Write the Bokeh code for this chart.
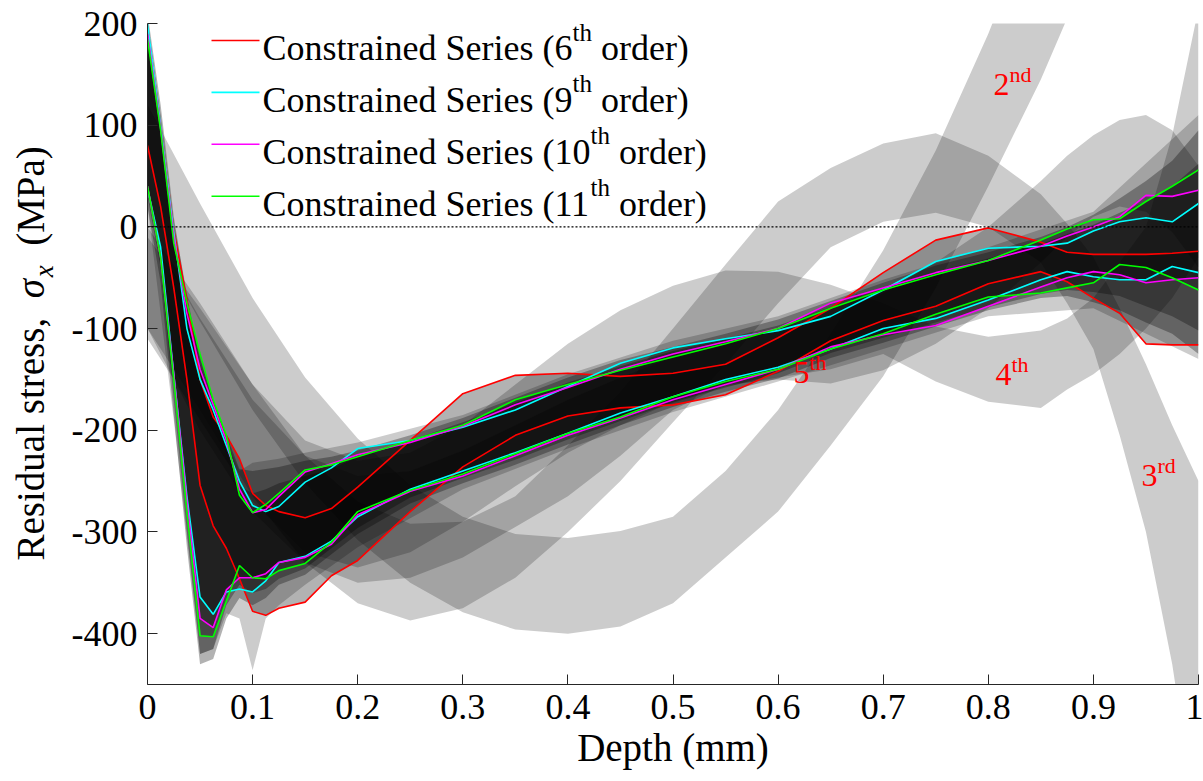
from bokeh.plotting import figure
from bokeh.models import Range1d, FixedTicker, Label, Span
from bokeh.layouts import row
from bokeh.embed import file_html
from bokeh.resources import INLINE
import math

# ---------------- data ----------------
depth = [0, 0.0125, 0.025, 0.0375, 0.05, 0.0625, 0.075, 0.0875, 0.1, 0.1125, 0.125, 0.15,
         0.175, 0.2, 0.25, 0.3, 0.35, 0.4, 0.45, 0.5, 0.55, 0.6, 0.65, 0.7, 0.75, 0.8,
         0.85, 0.875, 0.9, 0.925, 0.95, 0.975, 1.0]

# constrained series bounds (upper / lower), MPa
s6_upper = [198, 100, -3, -72, -150, -187, -205, -228, -262, -274, -280, -286, -277, -256, -210, -164, -146,
            -144, -147, -144, -135, -109, -80, -45, -13, -1, -15, -25, -27, -27, -27, -26, -24]
s6_lower = [80, 20, -60, -150, -254, -294, -316, -346, -378, -382, -375, -369, -343, -328, -280, -236, -205,
            -186, -178, -175, -165, -142, -112, -92, -78, -56, -44, -54, -70, -85, -115, -116, -116]
s9_upper = [200, 100, -5, -100, -150, -180, -215, -250, -274, -280, -275, -251, -237, -218, -210, -197, -180,
            -157, -134, -119, -110, -102, -88, -62, -34, -21, -19, -16, -4, 5, 9, 5, 23]
s9_lower = [38, -20, -145, -265, -364, -381, -359, -356, -359, -348, -330, -324, -309, -285, -258, -240, -222,
            -203, -183, -167, -150, -138, -120, -100, -90, -72, -52, -44, -49, -52, -52, -39, -45]
s10_upper = [190, 97, -10, -85, -140, -175, -210, -258, -281, -278, -265, -241, -233, -224, -212, -196, -175,
             -158, -140, -125, -113, -100, -75, -60, -45, -33, -19, -9, 0, 10, 31, 30, 36]
s10_lower = [40, -30, -145, -270, -385, -394, -357, -345, -345, -341, -330, -325, -312, -283, -260, -245, -225,
             -205, -188, -170, -155, -140, -118, -106, -97, -78, -59, -50, -44, -47, -55, -52, -50]
s11_upper = [185, 95, -16, -75, -125, -170, -205, -264, -281, -273, -262, -239, -234, -226, -210, -195, -170,
             -155, -141, -128, -115, -100, -80, -62, -47, -33, -13, -2, 7, 8, 25, 40, 56]
s11_lower = [40, -30, -150, -280, -402, -403, -368, -333, -345, -346, -338, -331, -310, -280, -259, -243, -223,
             -203, -187, -167, -152, -140, -120, -105, -86, -69, -65, -60, -55, -37, -40, -50, -62]

# other higher-order bands (no lines)
s7_upper = [200, 110, 0, -80, -140, -180, -220, -255, -262, -258, -252, -245, -238, -226, -210, -192, -173,
            -153, -137, -122, -110, -97, -79, -61, -44, -31, -17, -7, 2, 14, 25, 40, 62]
s7_lower = [30, -40, -170, -300, -420, -415, -372, -352, -360, -356, -346, -336, -316, -296, -266, -247, -229,
            -209, -191, -173, -158, -144, -124, -109, -94, -79, -66, -62, -64, -68, -78, -88, -102]
s8_upper = [210, 120, 10, -70, -130, -170, -205, -238, -240, -238, -236, -230, -226, -220, -205, -188, -168,
            -148, -131, -118, -105, -91, -73, -55, -38, -25, -10, 0, 12, 28, 45, 65, 95]
s8_lower = [20, -55, -185, -315, -430, -425, -385, -365, -372, -365, -352, -342, -322, -302, -272, -252, -234,
            -214, -195, -177, -162, -149, -129, -114, -98, -82, -70, -68, -74, -82, -94, -105, -125]

spike_depth = [0, 0.025, 0.05, 0.0625, 0.075, 0.0875, 0.1, 0.1125, 0.125, 0.15, 0.2, 0.3, 0.4, 0.5, 0.6,
               0.7, 0.8, 0.9, 1.0]
spike_lower = [20, -190, -420, -415, -380, -385, -436, -385, -372, -352, -315, -258, -218, -182, -152,
               -120, -88, -80, -130]
spike_upper = [190, 5, -135, -175, -210, -240, -232, -230, -228, -222, -212, -185, -145, -112, -88,
               -52, -20, 15, 110]

# low-order series bands
o2_depth = [0, 0.05, 0.1, 0.15, 0.2, 0.25, 0.3, 0.35, 0.4, 0.45, 0.5, 0.55, 0.6, 0.65, 0.7, 0.75, 0.8,
            0.85, 0.9, 0.95, 1.0]
o2_lower = [0, -93, -180, -252, -308, -350, -379, -396, -400, -393, -370, -325, -280, -215, -147, -60, 40,
            145, 265, 400, 550]
o2_upper = [120, 23, -70, -148, -208, -254, -285, -302, -306, -299, -285, -240, -180, -105, -23, 75, 190,
            320, 460, 620, 800]

lo_depth = [0, 0.05, 0.1, 0.15, 0.2, 0.25, 0.3, 0.35, 0.4, 0.45, 0.5, 0.55, 0.6, 0.65, 0.7, 0.75, 0.8,
            0.85, 0.875, 0.9, 0.925, 0.95, 0.975, 1.0]
o3_upper = [0, -75, -155, -225, -270, -292, -290, -265, -215, -162, -100, -37, 25, 58, 82, 92, 70, 32, 3,
            -30, -80, -135, -195, -250]
o3_lower = [-100, -180, -265, -330, -370, -387, -375, -345, -300, -250, -192, -135, -75, -20, 5, 14, 0,
            -35, -75, -120, -205, -300, -430, -600]
o4_upper = [-10, -80, -155, -210, -230, -222, -195, -155, -115, -82, -58, -43, -44, -57, -75, -98, -108,
            -102, -90, -70, -35, 0, 90, 215]
o4_lower = [-110, -190, -270, -320, -335, -320, -290, -255, -222, -195, -172, -157, -148, -140, -125, -152,
            -172, -178, -160, -145, -125, -100, -70, -30]
o5_upper = [0, -90, -170, -225, -245, -240, -220, -195, -170, -148, -128, -112, -100, -88, -65, -35, 0, 45,
            70, 90, 105, 110, 95, 60]
o5_lower = [-100, -200, -280, -330, -350, -345, -325, -295, -265, -225, -180, -155, -150, -154, -141, -115,
            -80, -35, -10, 10, 20, 15, -5, -40]

x_ticks = [0, 0.1, 0.2, 0.3, 0.4, 0.5, 0.6, 0.7, 0.8, 0.9, 1]
x_tick_labels = ["0", "0.1", "0.2", "0.3", "0.4", "0.5", "0.6", "0.7", "0.8", "0.9", "1"]
y_ticks = [-400, -300, -200, -100, 0, 100, 200]
y_tick_labels = ["-400", "-300", "-200", "-100", "0", "100", "200"]

legend_orders = ["6", "9", "10", "11"]
legend_colors = ["#ff0000", "#00ffff", "#ff00ff", "#00ff00"]

order_labels = [("2", "nd"), ("3", "rd"), ("4", "th"), ("5", "th")]

# ---------------- layout ----------------
W, H = 1203, 781
LW = 60                      # width of the strip that carries the y-axis title
FL, FR, FT, FB = 147, 1198, 23, 684   # frame edges in window pixels
XMIN, XMAX, YMIN, YMAX = 0.0, 1.0, -450.0, 200.0
FONT = "Liberation Serif"
BASE_FIX = 0.34              # baseline correction, fraction of font size


def px2x(px):
    return XMIN + (px - FL) * (XMAX - XMIN) / (FR - FL)


def px2y(py):
    return YMAX - (py - FT) * (YMAX - YMIN) / (FB - FT)


# Times / Liberation Serif advance widths (1/1000 em)
TW = {' ': 250, '(': 333, ')': 333, 'C': 667, 'S': 556, 'o': 500, 'n': 500, 's': 389, 't': 278,
      'r': 333, 'a': 444, 'i': 278, 'e': 444, 'd': 500, 'h': 500, ',': 250, 'R': 667, 'u': 500,
      'l': 278, 'M': 889, 'P': 556}


def tw(s, size):
    return sum(TW.get(c, 500) for c in s) * size / 1000.0


p = figure(width=W - LW, height=H, x_range=Range1d(XMIN, XMAX), y_range=Range1d(YMIN, YMAX),
           output_backend="svg", toolbar_location=None,
           min_border_left=FL - LW, min_border_right=W - FR, min_border_top=FT, min_border_bottom=H - FB)
p.outline_line_color = None
p.grid.visible = False
p.background_fill_color = "white"
p.border_fill_color = "white"

# light bands (low orders)
light = [(o2_depth, o2_lower, o2_upper), (lo_depth, o3_lower, o3_upper),
         (lo_depth, o4_lower, o4_upper), (lo_depth, o5_lower, o5_upper),
         (spike_depth, spike_lower, spike_upper)]
for xs, lo, up in light:
    p.varea(x=xs, y1=lo, y2=up, fill_color="black", fill_alpha=0.2)

# dark core bands (higher orders)
core = [(s6_lower, s6_upper), (s7_lower, s7_upper), (s8_lower, s8_upper),
        (s9_lower, s9_upper), (s10_lower, s10_upper), (s11_lower, s11_upper)]
for lo, up in core:
    p.varea(x=depth, y1=lo, y2=up, fill_color="black", fill_alpha=0.3)

p.add_layout(Span(location=0, dimension="width", line_color="black", line_width=1.2,
                  line_dash="2 2"))

series = [(s6_upper, s6_lower), (s9_upper, s9_lower), (s10_upper, s10_lower), (s11_upper, s11_lower)]
for (up, lo), col in zip(series, legend_colors):
    p.line(depth, up, line_color=col, line_width=1.6)
    p.line(depth, lo, line_color=col, line_width=1.6)

# axes
for ax in (p.xaxis[0], p.yaxis[0]):
    ax.major_tick_in = 10
    ax.major_tick_out = 0
    ax.minor_tick_in = 0
    ax.minor_tick_out = 0
    ax.axis_line_color = "#262626"
    ax.axis_line_width = 1
    ax.major_tick_line_color = "#262626"
    ax.major_label_text_font = FONT
    ax.major_label_text_font_size = "36px"
    ax.major_label_text_color = "#000000"
    ax.major_label_standoff = 10

p.xaxis.ticker = FixedTicker(ticks=x_ticks)
p.xaxis.major_label_overrides = dict(zip(x_ticks, x_tick_labels))
p.yaxis.ticker = FixedTicker(ticks=y_ticks)
p.yaxis.major_label_overrides = dict(zip(y_ticks, y_tick_labels))
p.xaxis.axis_label = "Depth (mm)"
p.xaxis.axis_label_text_font = FONT
p.xaxis.axis_label_text_font_size = "39px"
p.xaxis.axis_label_text_font_style = "normal"
p.xaxis.axis_label_text_color = "#000000"
p.xaxis.axis_label_standoff = 4


def add_text(fig, x, y, text, size, color="#000000", style="normal", angle=0.0):
    fig.add_layout(Label(x=x, y=y, text=text, angle=angle, text_font=FONT,
                         text_font_size=f"{size}px", text_font_style=style, text_color=color,
                         text_align="left", text_baseline="alphabetic"))


# legend (manual, with superscripts)
LX0, LX1, LTX = 211, 259, 262
for i, (order, col) in enumerate(zip(legend_orders, legend_colors)):
    ly = 40 + 51.9 * i
    by = ly + 20
    p.segment(x0=[px2x(LX0)], y0=[px2y(ly)], x1=[px2x(LX1)], y1=[px2y(ly)], line_color=col, line_width=1.6)
    main = "Constrained Series (" + order
    add_text(p, px2x(LTX), px2y(by - BASE_FIX * 36), main, 36)
    sx = LTX + tw(main, 36)
    add_text(p, px2x(sx), px2y(by - 20 - BASE_FIX * 25), "th", 25)
    ox = sx + tw("th", 25) + tw(" ", 36)
    add_text(p, px2x(ox), px2y(by - BASE_FIX * 36), "order)", 36)

# order annotations
order_pos = [(993, 95), (1141, 486), (995, 385), (793, 383)]
for (num, sup), (lx, ly) in zip(order_labels, order_pos):
    add_text(p, px2x(lx), px2y(ly - BASE_FIX * 32), num, 32, color="#ff0000")
    add_text(p, px2x(lx + 16), px2y(ly - 14 - BASE_FIX * 22), sup, 22, color="#ff0000")

# strip on the left carrying the rotated y-axis title
t = figure(width=LW, height=H, x_range=Range1d(0, LW), y_range=Range1d(YMIN, YMAX),
           output_backend="svg", toolbar_location=None, x_axis_location=None, y_axis_location=None,
           min_border_left=0, min_border_right=0, min_border_top=FT, min_border_bottom=H - FB)
t.outline_line_color = None
t.grid.visible = False
t.border_fill_color = "white"

ylab_size = 39
base_px = 43
y0 = 560
off_sigma = tw("Residual stress,  ", ylab_size)
off_x = off_sigma + 21
off_mpa = off_x + 12 + tw("  ", ylab_size)
pieces = [("Residual stress,", ylab_size, "normal", base_px, 0),
          ("\u03c3", ylab_size, "italic", base_px, off_sigma),
          ("x", 27, "italic", base_px + 10, off_x),
          ("(MPa)", ylab_size, "normal", base_px, off_mpa)]
for txt, size, style, bx, off in pieces:
    add_text(t, bx - BASE_FIX * size, px2y(y0 - off), txt, size, style=style, angle=math.pi / 2)

layout = row(t, p)
open("out.html", "w").write(file_html(layout, INLINE))
